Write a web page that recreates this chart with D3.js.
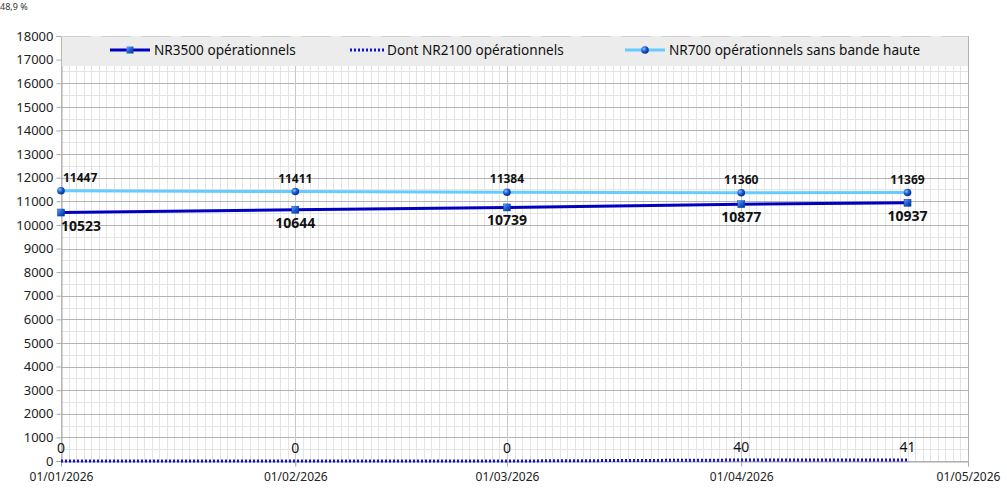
<!DOCTYPE html>
<html><head><meta charset="utf-8">
<script src="https://cdn.jsdelivr.net/npm/d3@7"></script>
<style>body{margin:0;background:#fff;font-family:"Noto Sans",sans-serif}</style>
</head><body><svg id="c" width="1007" height="496"></svg>
<script>
const dates = ["2026-01-01","2026-02-01","2026-03-01","2026-04-01","2026-04-23"];
const nr3500 = [10523,10644,10739,10877,10937];
const nr2100 = [0,0,0,40,41];
const nr700 = [11447,11411,11384,11360,11369];
const xTickLabels = ["01/01/2026","01/02/2026","01/03/2026","01/04/2026","01/05/2026"];
const yTicks = d3.range(0,18001,1000);
const seriesNames = ["NR3500 opérationnels","Dont NR2100 opérationnels","NR700 opérationnels sans bande haute"];

const parse = d3.utcParse("%Y-%m-%d");
const pDates = dates.map(parse);
const svg = d3.select("#c");
const L=61,R=968,T=36,B=461;
const x = d3.scaleUtc().domain([parse("2026-01-01"),parse("2026-05-01")]).range([L,R]);
const y = d3.scaleLinear().domain([0,18000]).range([B,T]);

const defs = svg.append("defs");
const g1 = defs.append("radialGradient").attr("id","ball").attr("cx","35%").attr("cy","35%").attr("r","65%");
g1.append("stop").attr("offset","0%").attr("stop-color","#8fc4ff");
g1.append("stop").attr("offset","50%").attr("stop-color","#1a5fd6");
g1.append("stop").attr("offset","100%").attr("stop-color","#0a2f8a");
const g2 = defs.append("linearGradient").attr("id","sq").attr("x1","0").attr("y1","0").attr("x2","1").attr("y2","1");
g2.append("stop").attr("offset","0%").attr("stop-color","#6aa8ff");
g2.append("stop").attr("offset","50%").attr("stop-color","#1a5fd6");
g2.append("stop").attr("offset","100%").attr("stop-color","#0a2f8a");

svg.append("text").attr("x",0).attr("y",10).attr("font-size",9).attr("fill","#333").text("48,9 %");

// minor grid
const days = d3.utcDay.range(parse("2026-01-01"),parse("2026-05-02"));
svg.append("g").selectAll("line").data(days).join("line")
  .attr("x1",d=>Math.round(x(d))+0.5).attr("x2",d=>Math.round(x(d))+0.5).attr("y1",T).attr("y2",B)
  .attr("stroke","#e4e4e4").attr("stroke-width",1);
svg.append("g").selectAll("line").data(d3.range(500,18000,1000)).join("line")
  .attr("x1",L).attr("x2",R).attr("y1",d=>Math.round(y(d))+0.5).attr("y2",d=>Math.round(y(d))+0.5)
  .attr("stroke","#e4e4e4");
// major grid
svg.append("g").selectAll("line").data(yTicks).join("line")
  .attr("x1",L).attr("x2",R).attr("y1",d=>Math.round(y(d))+0.5).attr("y2",d=>Math.round(y(d))+0.5)
  .attr("stroke","#b4b4b4");
const months = d3.utcMonth.range(parse("2026-01-01"),parse("2026-05-02"));
svg.append("g").selectAll("line").data(months).join("line")
  .attr("x1",d=>Math.round(x(d))+0.5).attr("x2",d=>Math.round(x(d))+0.5).attr("y1",T).attr("y2",B+5)
  .attr("stroke","#c8c8c8");

// axes
const ya = svg.append("g").attr("transform",`translate(${L+0.5},0)`)
  .call(d3.axisLeft(y).tickValues(yTicks).tickSize(5).tickPadding(3).tickFormat(d3.format("d")));
ya.select(".domain").attr("stroke","#a8a8a8");
ya.selectAll(".tick line").attr("stroke","#a8a8a8");
ya.selectAll("text").attr("font-size",13).attr("fill","#222").attr("font-family","Noto Sans");
const xa = svg.append("g").attr("transform",`translate(0,${B+0.5})`)
  .call(d3.axisBottom(x).tickValues(months).tickSize(5).tickPadding(6).tickFormat((d,i)=>xTickLabels[i]));
xa.select(".domain").attr("stroke","#a8a8a8");
xa.selectAll(".tick line").attr("stroke","#a8a8a8");
xa.selectAll("text").attr("font-size",12).attr("fill","#222").attr("font-family","Noto Sans");

// legend box
svg.append("rect").attr("x",L+1).attr("y",T).attr("width",R-L-1).attr("height",30).attr("fill","#ececec");
svg.append("line").attr("x1",L).attr("x2",R).attr("y1",T+0.5).attr("y2",T+0.5).attr("stroke","#cfcfcf").attr("stroke-dasharray","30,10");
svg.append("line").attr("x1",R+0.5).attr("x2",R+0.5).attr("y1",T).attr("y2",B).attr("stroke","#b4b4b4");

// lines
const line = vals => d3.line().x((d,i)=>x(pDates[i])).y(d=>y(d))(vals);
svg.append("path").attr("d",line(nr700)).attr("fill","none").attr("stroke","#66ccff").attr("stroke-width",3);
svg.append("path").attr("d",line(nr3500)).attr("fill","none").attr("stroke","#0000c0").attr("stroke-width",3);
svg.append("path").attr("d",line(nr2100)).attr("fill","none").attr("stroke","#1010d0").attr("stroke-width",3).attr("stroke-dasharray","2,2");

// markers
svg.append("g").selectAll("circle").data(nr700).join("circle")
  .attr("cx",(d,i)=>x(pDates[i])).attr("cy",d=>y(d)).attr("r",3.8).attr("fill","url(#ball)");
svg.append("g").selectAll("rect").data(nr3500).join("rect")
  .attr("x",(d,i)=>x(pDates[i])-3.5).attr("y",d=>y(d)-3.5).attr("width",7).attr("height",7).attr("fill","url(#sq)").attr("stroke","#0a3aa0").attr("stroke-width",0.5);

// labels
svg.append("g").selectAll("text").data(nr700).join("text")
  .attr("x",(d,i)=>i===0?x(pDates[i])+2:x(pDates[i])).attr("y",d=>y(d)-9)
  .attr("text-anchor",(d,i)=>i===0?"start":"middle").attr("font-size",12).attr("font-weight","bold").attr("fill","#111").text(d=>d);
svg.append("g").selectAll("text").data(nr3500).join("text")
  .attr("x",(d,i)=>x(pDates[i])).attr("y",d=>y(d)+18)
  .attr("text-anchor",(d,i)=>i===0?"start":"middle").attr("font-size",14).attr("font-weight","bold").attr("fill","#111").text(d=>d);
svg.append("g").selectAll("text").data(nr2100).join("text")
  .attr("x",(d,i)=>x(pDates[i])).attr("y",d=>y(d)-8)
  .attr("text-anchor","middle").attr("font-size",14).attr("fill","#111").text(d=>d);

// legend
const lg = svg.append("g").attr("font-size",13.6).attr("fill","#111");
lg.append("line").attr("x1",110).attr("x2",150).attr("y1",50).attr("y2",50).attr("stroke","#0000c0").attr("stroke-width",3);
lg.append("rect").attr("x",126.5).attr("y",46.5).attr("width",7).attr("height",7).attr("fill","url(#sq)");
lg.append("text").attr("x",154).attr("y",55).text(seriesNames[0]);
lg.append("line").attr("x1",350).attr("x2",384).attr("y1",50).attr("y2",50).attr("stroke","#1010d0").attr("stroke-width",3).attr("stroke-dasharray","2,2");
lg.append("text").attr("x",387).attr("y",55).text(seriesNames[1]);
lg.append("line").attr("x1",625).attr("x2",665).attr("y1",50).attr("y2",50).attr("stroke","#66ccff").attr("stroke-width",3);
lg.append("circle").attr("cx",645).attr("cy",50).attr("r",3.8).attr("fill","url(#ball)");
lg.append("text").attr("x",669).attr("y",55).text(seriesNames[2]);
</script></body></html>
